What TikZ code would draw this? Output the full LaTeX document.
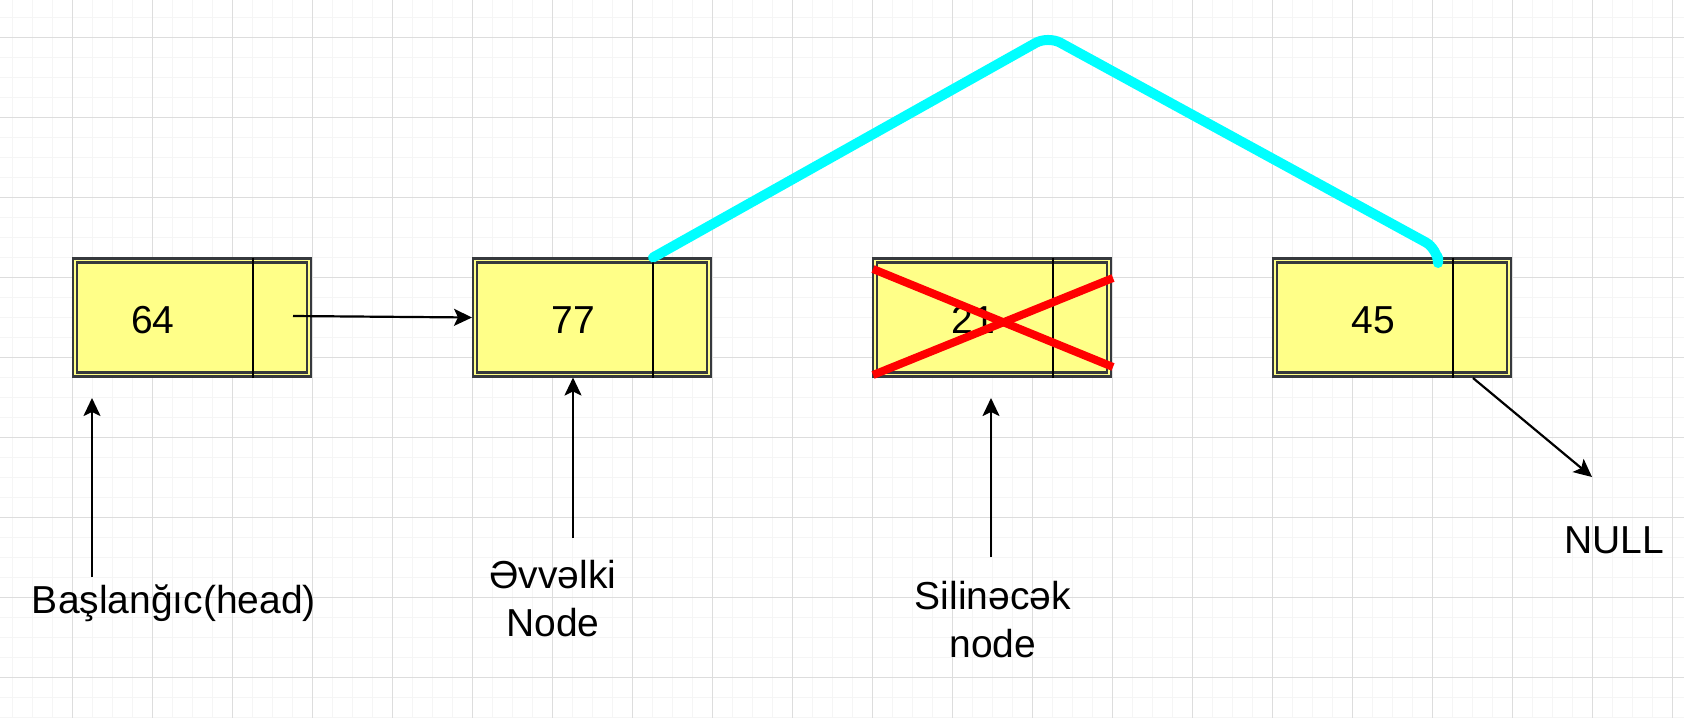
\documentclass[tikz,border=0pt]{standalone}
\usepackage{fontspec}
\setmainfont{Liberation Sans}
\usetikzlibrary{arrows.meta}
\definecolor{boxfill}{HTML}{FFFF88}
\definecolor{boxline}{HTML}{36393D}
\definecolor{linkcyan}{HTML}{00FFFF}
\definecolor{crossred}{HTML}{FF0000}
\definecolor{gridminor}{HTML}{F5F5F5}
\definecolor{gridmajor}{HTML}{DDDDDD}
\begin{document}
\begin{tikzpicture}[x=1pt,y=-1pt,
  minorline/.style={draw=gridminor, line width=1pt},
  majorline/.style={draw=gridmajor, line width=1pt},
  boxnode/.style={draw=boxline, line width=2.2pt, double=boxfill, double distance=1.8pt,
    fill=boxfill, minimum width=234pt, minimum height=114pt, inner sep=0pt, outer sep=3pt},
  divider/.style={draw=black, line width=1.6pt},
  valtext/.style={anchor=base, inner sep=0pt, font=\fontsize{39pt}{48pt}\selectfont},
  labeltext/.style={anchor=base, inner sep=0pt, align=center, font=\fontsize{39pt}{48pt}\selectfont},
  arr/.style={draw=black, line width=2.2pt, -{Stealth[length=18pt, width=17pt, inset=4pt]}},
  crossline/.style={draw=crossred, line width=8pt},
  linkline/.style={draw=linkcyan, line width=10pt, rounded corners=14pt, line cap=round, line join=round}
]
% background and grid
\fill[white] (0,0) rectangle (1684,718);
\useasboundingbox (0,0) rectangle (1684,718);
\foreach \gx in {12,32,...,1684} \draw[minorline] (\gx,0) -- (\gx,718);
\foreach \gy in {17,37,...,718} \draw[minorline] (0,\gy) -- (1684,\gy);
\foreach \gx in {72,152,...,1684} \draw[majorline] (\gx,0) -- (\gx,718);
\foreach \gy in {37,117,...,718} \draw[majorline] (0,\gy) -- (1684,\gy);

% list nodes
\node[boxnode] (b1) at (192,317.5) {};
\node[boxnode] (b2) at (592,317.5) {};
\node[boxnode] (b3) at (992,317.5) {};
\node[boxnode] (b4) at (1392,317.5) {};
\foreach \b in {b1,b2,b3,b4}
  \draw[divider] ([xshift=181pt]\b.north west) -- ([xshift=181pt]\b.south west);

\node[valtext] (v1) at (153,333) {64};
\node[valtext] (v2) at (573,333) {77};
\node[valtext] (v3) at (973,333) {21};
\node[valtext] (v4) at (1373,333) {45};

% deleted node cross
\coordinate (c1a) at (873,269);
\coordinate (c1b) at (1113,367);
\coordinate (c2a) at (873,375);
\coordinate (c2b) at (1113,278);
\draw[crossline] (c1a) -- (c1b);
\draw[crossline] (c2a) -- (c2b);

% new link
\coordinate (l0) at ([xshift=181pt]b2.north west);
\coordinate (l1) at (1048,36);
\coordinate (l2) at (1438,249);
\coordinate (l3) at (1438,257);
\draw[linkline] (l0) -- (l1) -- (l2) -- (l3);

% pointer 64 -> 77
\coordinate (p1) at (293,316);
\draw[arr] (p1) -- (b2.west);

% labels
\node[labeltext] (lh) at (174,613) {Başlanğıc(head)};
\node[labeltext] (lp) at (553,636) {Əvvəlki\\Node};
\node[labeltext] (ld) at (993,657) {Silinəcək\\node};
\node[labeltext] (ln) at (1614,553) {NULL};

\coordinate (a1s) at (92,577);
\coordinate (a1e) at (92,398);
\draw[arr] (a1s) -- (a1e);
\coordinate (a2s) at (573,538);
\draw[arr] (a2s) -- (a2s |- b2.south);
\coordinate (a3s) at (991,557);
\coordinate (a3e) at (991,398);
\draw[arr] (a3s) -- (a3e);
\coordinate (n1s) at (1473,378);
\coordinate (n1e) at (1592,477);
\draw[arr] (n1s) -- (n1e);
\end{tikzpicture}
\end{document}
